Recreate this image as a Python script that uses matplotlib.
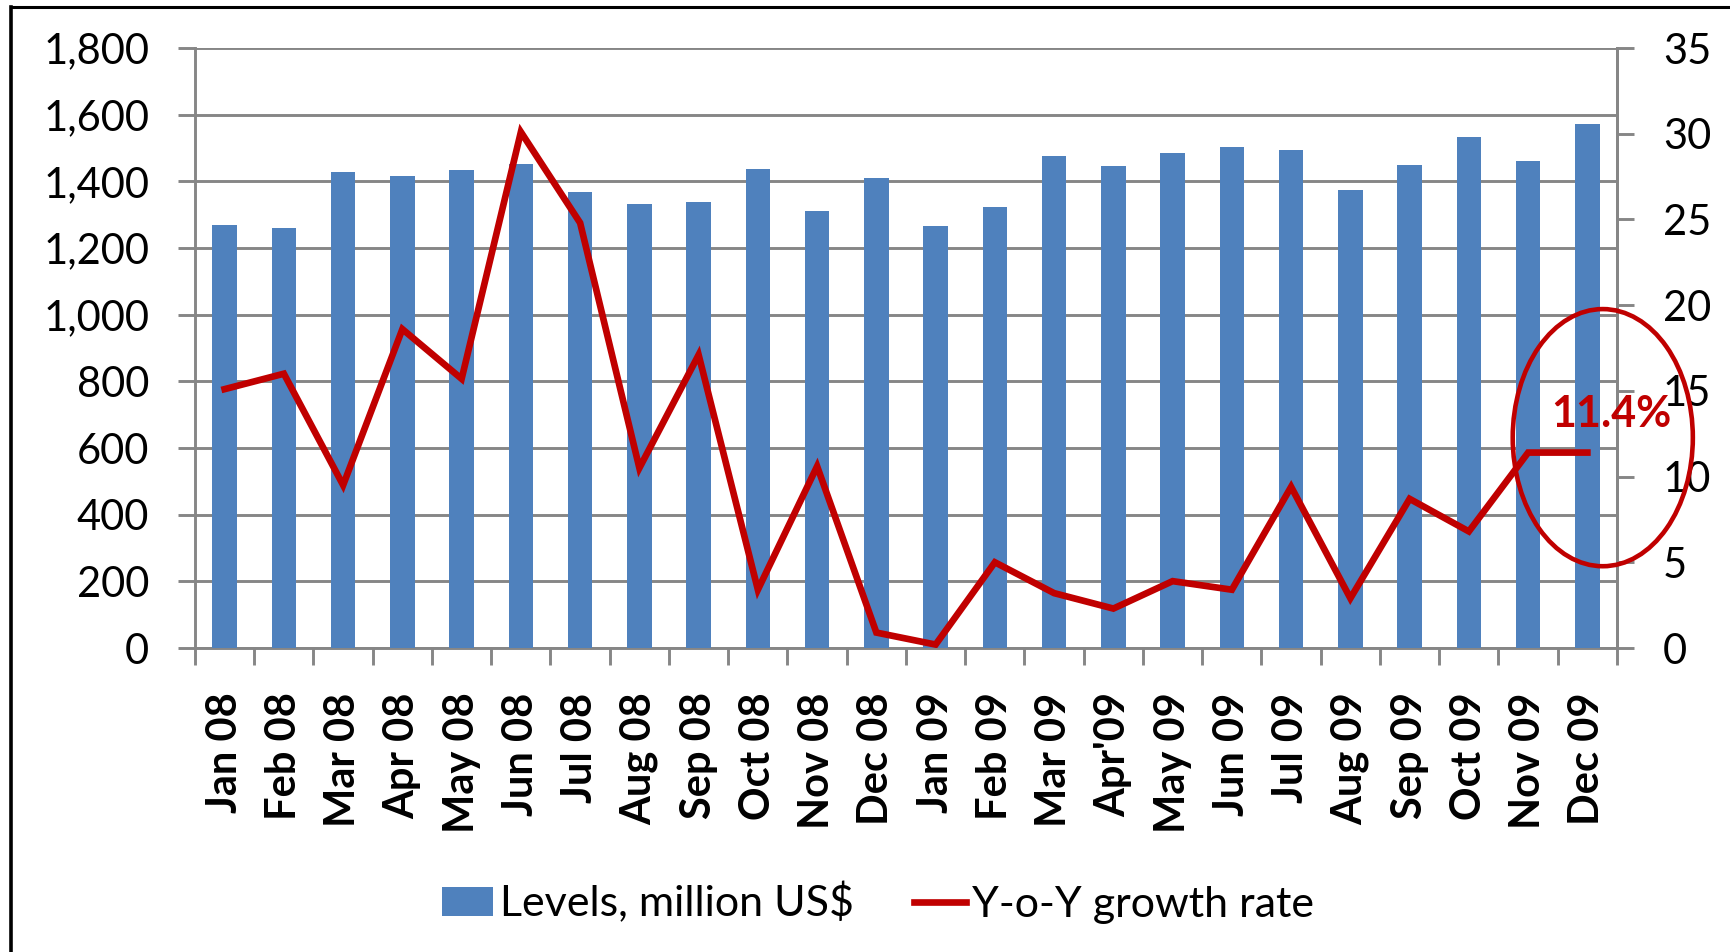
import numpy as np
import matplotlib
matplotlib.use("Agg")
import matplotlib.pyplot as plt
from matplotlib.patches import Ellipse
from matplotlib.lines import Line2D

plt.rcParams['font.family'] = ['Lato', 'DejaVu Sans']

# data
months = ['Jan 08', 'Feb 08', 'Mar 08', 'Apr 08', 'May 08', 'Jun 08',
          'Jul 08', 'Aug 08', 'Sep 08', 'Oct 08', 'Nov 08', 'Dec 08',
          'Jan 09', 'Feb 09', 'Mar 09', "Apr'09", 'May 09', 'Jun 09',
          'Jul 09', 'Aug 09', 'Sep 09', 'Oct 09', 'Nov 09', 'Dec 09']
levels = [1268, 1261, 1429, 1415, 1433, 1453, 1369, 1333, 1337, 1437, 1312, 1411,
          1266, 1322, 1476, 1446, 1484, 1503, 1495, 1373, 1449, 1534, 1460, 1571]
yoy = [15.1, 16.0, 9.5, 18.6, 15.7, 30.1, 24.8, 10.5, 17.1, 3.4, 10.6, 0.9,
       0.2, 5.0, 3.2, 2.3, 3.9, 3.4, 9.4, 2.9, 8.7, 6.8, 11.4, 11.4]
left_ticks = [0, 200, 400, 600, 800, 1000, 1200, 1400, 1600, 1800]
right_ticks = [0, 5, 10, 15, 20, 25, 30, 35]

BLUE = '#4F81BD'
RED = '#C00000'
GRID = '#868686'

W, H = 1731, 952
fig = plt.figure(figsize=(W / 100, H / 100), dpi=100)
ax = fig.add_axes([195 / W, 1 - 648 / H, (1617 - 195) / W, 600 / H])
x = np.arange(len(months))

ax.bar(x, levels, width=0.41, color=BLUE, zorder=3, label='Levels, million US$')
ax.set_xlim(-0.5, len(months) - 0.5)
ax.set_ylim(0, 1800)
ax.set_yticks(left_ticks)
ax.set_yticklabels([f'{v:,}' for v in left_ticks], fontsize=30)
ax.yaxis.grid(True, color=GRID, linewidth=2.1, zorder=0)
ax.set_axisbelow(True)
ax.tick_params(axis='y', length=12, width=2.1, color=GRID, pad=21)

ax.set_xticks(x)
ax.set_xticklabels(months, rotation=90, fontsize=30, fontweight='bold')
ax.set_xticks(np.arange(-0.5, len(months), 1), minor=True)
ax.tick_params(axis='x', which='major', length=0, pad=32)
ax.tick_params(axis='x', which='minor', length=12, width=2.1, color=GRID)

for s in ['left', 'bottom', 'right']:
    ax.spines[s].set_color(GRID)
    ax.spines[s].set_linewidth(2.1)
ax.spines['top'].set_visible(False)

ax2 = ax.twinx()
ax2.plot(x, yoy, color=RED, linewidth=4.8, solid_joinstyle='miter',
         label='Y-o-Y growth rate', zorder=4)
ax2.set_ylim(0, 35)
ax2.set_yticks(right_ticks)
ax2.set_yticklabels([str(v) for v in right_ticks], fontsize=30)
ax2.tick_params(axis='y', length=12, width=2.1, color=GRID, pad=21)
for s in ['left', 'bottom', 'top']:
    ax2.spines[s].set_visible(False)
ax2.spines['right'].set_color(GRID)
ax2.spines['right'].set_linewidth(2.1)

# highlight of the last reading
ax2.add_patch(Ellipse((23.26, 12.27), 3.04, 15.0, fill=False, edgecolor=RED,
                      linewidth=3.3, clip_on=False, zorder=5))
ax2.text(23.4, 13.65, f'{yoy[-1]}%', color=RED, fontsize=31, fontweight='bold',
         ha='center', va='center', zorder=6)

h1, l1 = ax.get_legend_handles_labels()
h2, l2 = ax2.get_legend_handles_labels()
fig.legend(h1 + h2, l1 + l2, loc='center', bbox_to_anchor=(878 / W, 1 - 903 / H),
           ncol=2, frameon=False, fontsize=31, handlelength=1.2, handleheight=0.65,
           handletextpad=0.15, columnspacing=1.4)

# outer chart frame (only top and left visible)
fig.add_artist(Line2D([11 / W, 1], [1 - 7 / H, 1 - 7 / H], color='black', linewidth=2.2,
                      transform=fig.transFigure))
fig.add_artist(Line2D([11 / W, 11 / W], [0, 1 - 7 / H], color='black', linewidth=2.6,
                      transform=fig.transFigure))

fig.savefig('out.png', dpi=100)
